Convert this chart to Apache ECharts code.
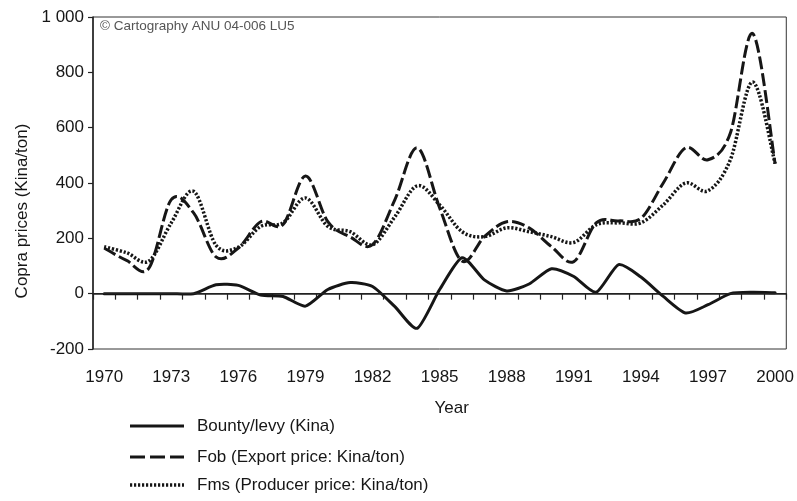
<!DOCTYPE html>
<html>
<head>
<meta charset="utf-8">
<script src="https://cdn.jsdelivr.net/npm/echarts@6/dist/echarts.min.js"></script>
<style>
html,body{margin:0;padding:0;background:#fff;}
#chart{width:797px;height:501px;}
</style>
</head>
<body>
<div id="chart"></div>
<script>
var years = ['1970','1971','1972','1973','1974','1975','1976','1977','1978','1979','1980','1981','1982','1983','1984','1985','1986','1987','1988','1989','1990','1991','1992','1993','1994','1995','1996','1997','1998','1999','2000'];
var bounty = [0,0,0,0,0,32,30,-5,-10,-45,15,40,26,-47,-125,15,130,50,10,35,90,62,5,105,60,-10,-70,-40,0,5,3];
var fob = [165,120,92,340,292,133,165,260,250,425,260,205,177,340,527,310,118,206,260,238,170,116,256,263,272,400,527,484,581,940,470];
var fms = [170,148,118,256,370,175,168,243,256,346,243,224,177,278,390,321,224,206,238,224,206,185,249,256,256,321,400,372,484,765,470];
var yTicks = {min:-200, max:1000, interval:200};
var names = ['Bounty/levy (Kina)','Fob (Export price: Kina/ton)','Fms (Producer price: Kina/ton)'];

var FONT = 'Liberation Sans, Arial, Helvetica, sans-serif';
var INK = '#161616';
var styles = [
  {stroke:INK, lineWidth:3, lineDash:null, lineCap:'round', tension:0.11},
  {stroke:INK, lineWidth:3, lineDash:[13,4], lineCap:'butt', tension:1/6},
  {stroke:INK, lineWidth:3.5, lineDash:[2.2,1.8], lineCap:'butt', tension:1/6}
];

// Catmull-Rom style smooth curve drawn through the axis scales
function curveSeries(idx, values, extra) {
  var s = {
    name: names[idx], type:'custom', coordinateSystem:'cartesian2d',
    data: values.map(function(v,i){ return [i, v]; }),
    encode:{x:0, y:1},
    z: 3 - idx,
    renderItem: function(params, api) {
      if (params.dataIndex !== 0) return null;
      var st = styles[idx];
      var p = values.map(function(v,i){ return api.coord([i, v]); });
      var n = p.length, t = st.tension;
      var d = 'M' + p[0][0] + ' ' + p[0][1];
      for (var i = 0; i < n - 1; i++) {
        var p0 = p[Math.max(i-1,0)], p1 = p[i], p2 = p[i+1], p3 = p[Math.min(i+2,n-1)];
        var c1x = p1[0] + (p2[0]-p0[0])*t, c1y = p1[1] + (p2[1]-p0[1])*t;
        var c2x = p2[0] - (p3[0]-p1[0])*t, c2y = p2[1] - (p3[1]-p1[1])*t;
        d += ' C' + c1x + ' ' + c1y + ' ' + c2x + ' ' + c2y + ' ' + p2[0] + ' ' + p2[1];
      }
      return {type:'path', shape:{pathData:d}, silent:true,
        style:{fill:'none', stroke:st.stroke, lineWidth:st.lineWidth, lineDash:st.lineDash, lineCap:st.lineCap, lineJoin:'round'}};
    }
  };
  if (extra) for (var k in extra) s[k] = extra[k];
  return s;
}

// legend drawn as graphic (line sample + real text)
var legendRows = [426, 457, 485];
var legendGraphics = [];
names.forEach(function(nm, i){
  var st = styles[i];
  legendGraphics.push({type:'line', shape:{x1:130, y1:legendRows[i], x2:184, y2:legendRows[i]},
    style:{stroke:st.stroke, lineWidth:st.lineWidth, lineDash: i===1 ? [15,5] : st.lineDash, lineCap:'butt'}});
  legendGraphics.push({type:'text', x:197, y:legendRows[i],
    style:{text:nm, fontFamily:FONT, fontSize:17, fill:INK, verticalAlign:'middle', align:'left'}});
});

var chart = echarts.init(document.getElementById('chart'), null, {renderer:'canvas'});
chart.setOption({
  animation:false,
  backgroundColor:'#fff',
  textStyle:{fontFamily:FONT, color:INK},
  grid:{left:93, right:10, top:17, bottom:152, show:true, borderColor:'#333', borderWidth:1, backgroundColor:'transparent'},
  graphic:[
    {type:'text', left:100, top:19, style:{text:'\u00a9 Cartography ANU 04-006 LU5', fontFamily:FONT, fontSize:13.5, fill:'#555'}},
    {type:'text', x:22, y:211, rotation:Math.PI/2, style:{text:'Copra prices (Kina/ton)', fontFamily:FONT, fontSize:17, fill:INK, align:'center', verticalAlign:'middle'}}
  ].concat(legendGraphics),
  xAxis:{
    type:'category', data:years, boundaryGap:true,
    name:'Year', nameLocation:'middle', nameGap:51,
    nameTextStyle:{fontFamily:FONT, fontSize:17, color:INK, padding:[0,0,0,24]},
    axisLine:{show:true, lineStyle:{color:'#222', width:1.5}},
    axisTick:{show:true, interval:0, length:6, lineStyle:{color:'#222', width:1.2}},
    axisLabel:{interval:2, fontFamily:FONT, fontSize:17, color:INK, margin:20},
    splitLine:{show:false}
  },
  yAxis:{
    type:'value', min:yTicks.min, max:yTicks.max, interval:yTicks.interval,
    axisLine:{show:true, lineStyle:{color:'#222', width:1.5}},
    axisTick:{show:true, length:5, lineStyle:{color:'#222', width:1.2}},
    axisLabel:{fontFamily:FONT, fontSize:17, color:INK, margin:9,
      formatter:function(v){ return v === 1000 ? '1 000' : String(v); }},
    splitLine:{show:false}
  },
  series:[
    curveSeries(0, bounty, {markLine:{silent:true, symbol:'none', label:{show:false}, animation:false,
       lineStyle:{color:'#222', width:1, type:'solid'}, data:[{yAxis:0}]}}),
    curveSeries(1, fob),
    curveSeries(2, fms)
  ]
});
</script>
</body>
</html>
